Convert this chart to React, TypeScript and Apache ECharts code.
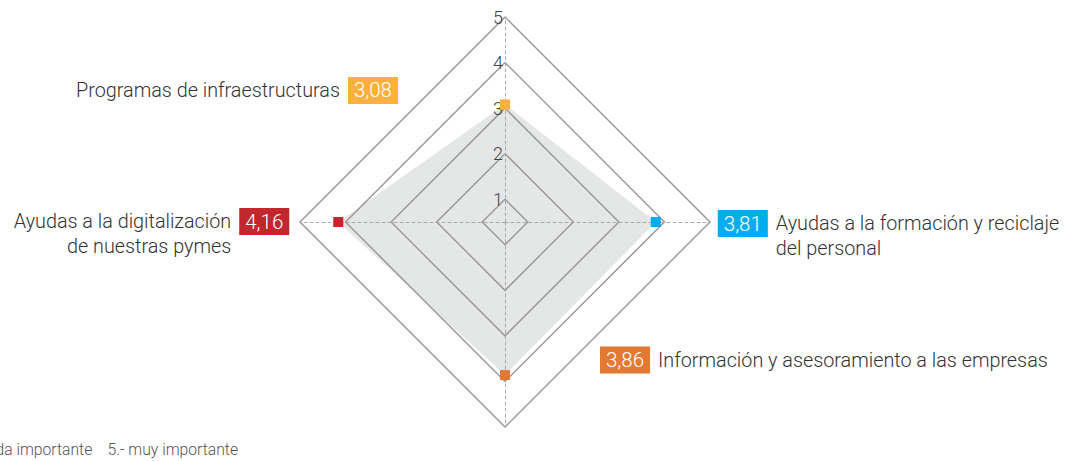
import React, { useEffect, useRef } from "react";
import * as echarts from "echarts";

// ---- data ----
const categories = [
  "Programas de infraestructuras",
  "Ayudas a la digitalización\nde nuestras pymes",
  "Información y asesoramiento a las empresas",
  "Ayudas a la formación y reciclaje\ndel personal",
];
const values = [3.08, 4.16, 3.86, 3.81];
const markerColors = ["#FBB040", "#C1272D", "#E37933", "#00AEEF"];
const scaleMin = 0.5;
const scaleMax = 5;
const footnote = "1.- nada importante    5.- muy importante";

// ---- styles (label placement) ----
const labelLayouts = [
  { position: "left", boxSide: "right", offset: [-97, -14] },
  { position: "left", boxSide: "right", offset: [-39, 12] },
  { position: "right", boxSide: "left", offset: [85, -15] },
  { position: "right", boxSide: "left", offset: [52, 14] },
];

const FONT = "Roboto, 'Liberation Sans', sans-serif";
const NAME_SIZE = 19.8;

const fmt = (v: number) => v.toFixed(2).replace(".", ",");

export default function App() {
  const ref = useRef<HTMLDivElement>(null);
  useEffect(() => {
    if (!ref.current) return;
    const chart = echarts.init(ref.current, undefined, { renderer: "svg" });

    const scatterData = values.map((v, i) => {
      const lay = labelLayouts[i];
      const lines = categories[i].split("\n");
      const spacer = "{sp|}";
      let text: string;
      if (lay.boxSide === "right") {
        text = lines
          .map((l, k) => (k === 0 ? `{n|${l}}{g|}{b|${fmt(v)}}` : `{n|${l}}${spacer}`))
          .join("\n");
      } else {
        text = lines
          .map((l, k) => (k === 0 ? `{b|${fmt(v)}}{g|}{n|${l}}` : `${spacer}{n|${l}}`))
          .join("\n");
      }
      return {
        value: [v, i],
        itemStyle: { color: markerColors[i], opacity: 1 },
        label: {
          show: true,
          position: lay.position,
          offset: lay.offset,
          align: lay.boxSide === "right" ? "right" : "left",
          formatter: text,
          rich: {
            n: { fontSize: NAME_SIZE, fontFamily: FONT, fontWeight: 300, color: "#333", lineHeight: 25 },
            g: { width: 8 },
            sp: { width: 58 },
            b: {
              fontSize: 20.5,
              fontFamily: FONT,
              fontWeight: 300,
              color: "#fff",
              backgroundColor: markerColors[i],
              padding: [3, 6, 3, 6],
              lineHeight: 22,
            },
          },
        },
      };
    });

    chart.setOption({
      animation: false,
      radar: {
        center: [505, 222],
        radius: 205,
        startAngle: 90,
        shape: "polygon",
        splitNumber: Math.round((scaleMax - scaleMin) / 0.5),
        z: 5,
        indicator: categories.map((c, i) => ({
          name: c,
          min: scaleMin,
          max: scaleMax,
          axisLabel: { show: i === 0 },
        })),
        axisName: { show: false },
        splitArea: { show: false },
        splitLine: {
          lineStyle: { color: ["rgba(0,0,0,0)", "#9b9b9b"], width: 1.5 },
        },
        axisLine: { lineStyle: { color: "#aaaaaa", width: 1, type: [3, 3] } },
        axisTick: { show: false },
        axisLabel: {
          show: true,
          color: "#444",
          fontSize: 18,
          fontFamily: FONT,
          fontWeight: 300,
          margin: 2,
          padding: [0, 0, 12, 0],
          formatter: (v: number) => (Math.abs(v - Math.round(v)) < 1e-6 && v >= 1 ? String(Math.round(v)) : ""),
        },
      },
      polar: { center: [505, 222], radius: 205 },
      angleAxis: {
        type: "category",
        data: categories,
        startAngle: 45,
        clockwise: false,
        show: false,
      },
      radiusAxis: { min: scaleMin, max: scaleMax, show: false },
      series: [
        {
          type: "radar",
          z: 1,
          silent: true,
          symbol: "none",
          lineStyle: { width: 0, opacity: 0 },
          areaStyle: { color: "#e5e6e6", opacity: 1 },
          data: [{ value: values }],
        },
        {
          type: "scatter",
          coordinateSystem: "polar",
          z: 10,
          symbol: "rect",
          symbolSize: 10,
          silent: true,
          data: scatterData,
        },
      ],
      graphic: [
        {
          type: "text",
          x: 238,
          y: 449,
          style: {
            text: footnote,
            align: "right",
            verticalAlign: "middle",
            fontSize: 15.7,
            fontFamily: FONT,
            fontWeight: 300,
            fill: "#555",
          },
        },
      ],
    });
    return () => chart.dispose();
  }, []);
  return (
    <div
      ref={ref}
      style={{ position: "absolute", left: 0, top: 0, width: 1074, height: 461 }}
    />
  );
}
